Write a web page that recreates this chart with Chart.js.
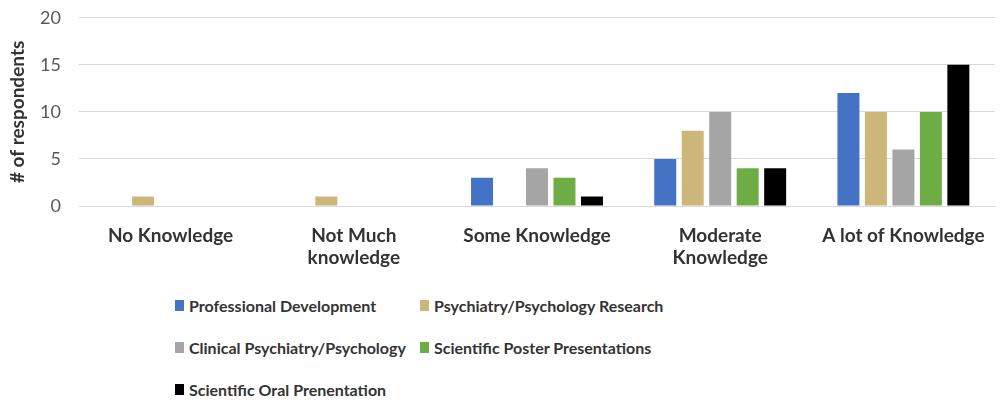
<!DOCTYPE html>
<html>
<head>
<meta charset="utf-8">
<script src="https://cdn.jsdelivr.net/npm/chart.js@4.4.0/dist/chart.umd.min.js"></script>
<style>
  body { margin: 0; background: #fff; font-family: Lato, "Open Sans", sans-serif; }
  #wrap { position: relative; width: 1005px; height: 402px; overflow: hidden; }
  #box { position: absolute; left: 0; top: -11px; width: 1005px; height: 286px; }
  #legend { position: absolute; left: 175px; top: 294px; display: grid;
    grid-template-columns: 245px 300px; row-gap: 20px; font-weight: 700;
    font-size: 16px; color: #333; }
  #legend div { display: flex; align-items: center; height: 22px; white-space: nowrap; }
  #legend span { display: inline-block; width: 9px; height: 11px; margin-right: 5px; }
</style>
</head>
<body>
<div id="wrap">
  <div id="box"><canvas id="chart"></canvas></div>
  <div id="legend"></div>
</div>
<script>
const kategori = ["No Knowledge", ["Not Much", "knowledge"], "Some Knowledge", ["Moderate", "Knowledge"], "A lot of Knowledge"];
const namaSeri = [
  "Professional Development",
  "Psychiatry/Psychology Research",
  "Clinical Psychiatry/Psychology",
  "Scientific Poster Presentations",
  "Scientific Oral Prenentation"
];
const profDev = [0, 0, 3, 5, 12];
const psyRes = [1, 1, 0, 8, 10];
const klinis = [0, 0, 4, 10, 6];
const poster = [0, 0, 3, 4, 10];
const oral = [0, 0, 1, 4, 15];
const yTicks = [0, 5, 10, 15, 20];
const warna = ["#4472C4", "#CDB679", "#A5A5A5", "#6EAD46", "#000000"];

const nilai = [profDev, psyRes, klinis, poster, oral];

// Legend manual (2 kolom)
const legendEl = document.getElementById("legend");
namaSeri.forEach((n, i) => {
  const d = document.createElement("div");
  d.innerHTML = `<span style="background:${warna[i]}"></span>${n}`;
  legendEl.appendChild(d);
});

new Chart(document.getElementById("chart"), {
  type: "bar",
  data: {
    labels: kategori,
    datasets: nilai.map((v, i) => ({
      label: namaSeri[i],
      data: v,
      backgroundColor: warna[i],
      categoryPercentage: 0.75,
      barPercentage: 0.8
    }))
  },
  options: {
    responsive: true,
    maintainAspectRatio: false,
    animation: false,
    layout: { padding: { top: 8, right: 10, left: 6, bottom: 0 } },
    plugins: {
      legend: { display: false },
      tooltip: { enabled: false }
    },
    scales: {
      x: {
        grid: { display: false },
        border: { color: "#d9d9d9" },
        ticks: {
          color: "#333",
          font: { family: "Lato", size: 19, weight: "bold" },
          maxRotation: 0,
          padding: 10
        },
        afterFit: s => { s.height = 69; }
      },
      y: {
        min: 0,
        max: 20,
        afterBuildTicks: s => { s.ticks = yTicks.map(v => ({ value: v })); },
        grid: { color: "#d9d9d9", drawTicks: false },
        border: { display: false },
        ticks: {
          color: "#595959",
          font: { family: "Lato", size: 18 },
          padding: 18
        },
        title: {
          display: true,
          text: "# of respondents",
          color: "#333",
          font: { family: "Lato", size: 19, weight: "bold" },
          padding: 0
        },
        afterFit: s => { s.width = 73; }
      }
    }
  }
});
</script>
</body>
</html>
